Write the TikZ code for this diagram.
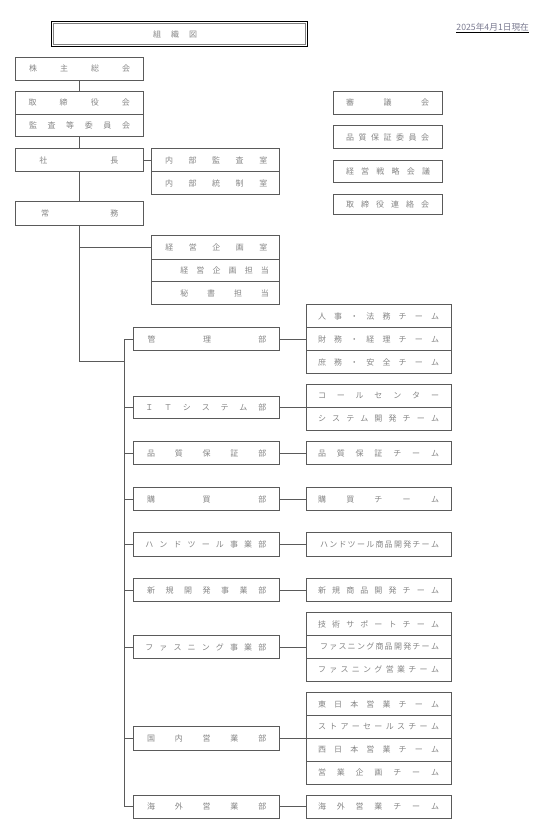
\documentclass[tikz,border=0pt]{standalone}
\usepackage{fontspec}
\setmainfont{Noto Sans CJK JP}
\definecolor{ln}{HTML}{5A5A5A}
\definecolor{tx}{HTML}{858585}
\definecolor{dtx}{HTML}{7A7A90}
\tikzset{
 obox/.style={draw=ln, line width=0.8pt, rectangle, inner sep=0pt, outer sep=0pt},
 lbl/.style={inner sep=0pt, outer sep=0pt, text=tx, font=\fontsize{8}{8}\selectfont},
 conn/.style={draw=ln, line width=0.8pt},
}
\newcommand\obox[5]{\node[obox, minimum width={(#4)-(#2)}, minimum height={(#5)-(#3)}] (#1) at ({((#2)+(#4))/2},{((#3)+(#5))/2}) {};}
\newcommand\otext[5]{\pgfmathsetlengthmacro\mywd{(#3)-(#2)+8}\node[lbl] (#1) at ({((#2)+(#3))/2},#4) {\makebox[\mywd][s]{#5}};}
\begin{document}
\begin{tikzpicture}[x=1pt,y=-1pt]
\useasboundingbox (0,0) rectangle (555,830);
% title
\node[draw=black, line width=1pt, minimum width=256.3, minimum height=24.3, inner sep=0pt, outer sep=0pt] (title) at (179.15,33.85) {};
\node[draw=gray, line width=0.8pt, minimum width=252, minimum height=20.5, inner sep=0pt, outer sep=0pt] (titlein) at (title.center) {};
\otext{titletxt}{157}{193}{34}{組 織 図}
\node[lbl, text=dtx, font=\fontsize{8.7}{8.7}\selectfont] (date) at (492.7,27.3) {2025年4月1日現在};
\draw[black, line width=0.8pt] ([yshift=-0.6pt]date.south west) -- ([yshift=-0.6pt]date.south east);
% left column
\obox{kab}{15.7}{57.3}{143.3}{80}
\obox{tori}{15.7}{91}{143.3}{114}
\obox{kansa}{15.7}{114}{143.3}{136.7}
\obox{shacho}{15.7}{148.3}{143.3}{171.7}
\obox{jomu}{15.7}{201.7}{143.3}{225}
\otext{kabT}{33}{126}{68.65}{株 主 総 会}
\otext{toriT}{32.5}{126}{102.5}{取 締 役 会}
\otext{kansaT}{33}{126}{125.35}{監 査 等 委 員 会}
\otext{shachoT}{43.3}{114.3}{160}{社 長}
\otext{jomuT}{45}{114.3}{213.35}{常 務}
% middle column
\obox{naibu1}{151.7}{148.3}{279.3}{171.7}
\obox{naibu2}{151.7}{171.7}{279.3}{194.3}
\obox{keiei1}{151.7}{235.7}{279.3}{259}
\obox{keiei2}{151.7}{259}{279.3}{281.7}
\obox{hisho}{151.7}{281.7}{279.3}{304.3}
\otext{naibu1T}{169}{263.3}{160}{内 部 監 査 室}
\otext{naibu2T}{169}{263.3}{183}{内 部 統 制 室}
\otext{keiei1T}{169.3}{263.3}{247.35}{経 営 企 画 室}
\otext{keiei2T}{184.3}{265}{270.35}{経 営 企 画 担 当}
\otext{hishoT}{184.3}{265}{293}{秘 書 担 当}
% committees
\obox{shingi}{333.3}{91.7}{442.7}{114}
\obox{hqcomm}{333.3}{125.7}{442.7}{148.3}
\obox{senryaku}{333.3}{160}{442.7}{182.7}
\obox{renraku}{333.3}{194.3}{442.7}{214}
\otext{shingiT}{350}{425}{102.85}{審 議 会}
\otext{hqcommT}{350}{425}{137}{品 質 保 証 委 員 会}
\otext{senryakuT}{350}{426}{171.35}{経 営 戦 略 会 議}
\otext{renrakuT}{350}{425}{204.15}{取 締 役 連 絡 会}
% departments
\obox{kanri}{133.3}{327.3}{279.3}{350.7}
\obox{it}{133.3}{396}{279.3}{418.7}
\obox{hinshitsu}{133.3}{441.7}{279.3}{464.3}
\obox{kobai}{133.3}{487.3}{279.3}{510.7}
\obox{hand}{133.3}{532.7}{279.3}{556}
\obox{shinki}{133.3}{578.3}{279.3}{601.7}
\obox{fas}{133.3}{635.7}{279.3}{658.3}
\obox{kokunai}{133.3}{726.7}{279.3}{750}
\obox{kaigai}{133.3}{795}{279.3}{818.3}
\otext{kanriT}{151.7}{262.3}{339}{管 理 部}
\otext{itT}{149.3}{262.3}{407.35}{Ｉ Ｔ シ ス テ ム 部}
\otext{hinshitsuT}{151}{262.3}{453}{品 質 保 証 部}
\otext{kobaiT}{151}{262.3}{499}{購 買 部}
\otext{handT}{149.3}{262.3}{544.35}{ハ ン ド ツ ー ル 事 業 部}
\otext{shinkiT}{151}{262.3}{590}{新 規 開 発 事 業 部}
\otext{fasT}{149.3}{262.3}{647}{フ ァ ス ニ ン グ 事 業 部}
\otext{kokunaiT}{151}{262.3}{738.35}{国 内 営 業 部}
\otext{kaigaiT}{151}{262.3}{806.65}{海 外 営 業 部}
% teams
\obox{jinji}{306}{304.7}{451.7}{327.3}
\obox{zaimu}{306}{327.3}{451.7}{350.7}
\obox{shomu}{306}{350.7}{451.7}{373.3}
\obox{call}{306}{384.3}{451.7}{407.3}
\obox{sysdev}{306}{407.3}{451.7}{430}
\obox{hqteam}{306}{441.7}{451.7}{464.3}
\obox{kobaiteam}{306}{487.3}{451.7}{510.7}
\obox{handteam}{306}{532.7}{451.7}{556}
\obox{shinkiteam}{306}{578.3}{451.7}{601.7}
\obox{gijutsu}{306}{612.7}{451.7}{635.3}
\obox{fasdev}{306}{635.3}{451.7}{658.3}
\obox{fassales}{306}{658.3}{451.7}{681}
\obox{east}{306}{692.7}{451.7}{715.7}
\obox{store}{306}{715.7}{451.7}{738.3}
\obox{west}{306}{738.3}{451.7}{761}
\obox{eplan}{306}{761}{451.7}{784}
\obox{kaigaiteam}{306}{795}{451.7}{818.3}
\otext{jinjiT}{322}{435}{316}{人 事 ・ 法 務 チ ー ム}
\otext{zaimuT}{322}{435}{339}{財 務 ・ 経 理 チ ー ム}
\otext{shomuT}{322}{435}{362}{庶 務 ・ 安 全 チ ー ム}
\otext{callT}{322}{435}{395.8}{コ ー ル セ ン タ ー}
\otext{sysdevT}{322}{435}{418.65}{シ ス テ ム 開 発 チ ー ム}
\otext{hqteamT}{322}{435}{453}{品 質 保 証 チ ー ム}
\otext{kobaiteamT}{322}{435}{499}{購 買 チ ー ム}
\otext{handteamT}{324}{435}{544.35}{ハ ン ド ツ ー ル 商 品 開 発 チ ー ム}
\otext{shinkiteamT}{322}{435}{590}{新 規 商 品 開 発 チ ー ム}
\otext{gijutsuT}{322}{435}{624}{技 術 サ ポ ー ト チ ー ム}
\otext{fasdevT}{324}{435}{646.8}{フ ァ ス ニ ン グ 商 品 開 発 チ ー ム}
\otext{fassalesT}{322}{435}{669.65}{フ ァ ス ニ ン グ 営 業 チ ー ム}
\otext{eastT}{322}{435}{704.2}{東 日 本 営 業 チ ー ム}
\otext{storeT}{322}{435}{727}{ス ト ア ー セ ー ル ス チ ー ム}
\otext{westT}{322}{435}{749.65}{西 日 本 営 業 チ ー ム}
\otext{eplanT}{322}{435}{772.5}{営 業 企 画 チ ー ム}
\otext{kaigaiteamT}{322}{435}{806.65}{海 外 営 業 チ ー ム}
% connectors
\draw[conn] (kab) -- (tori);
\draw[conn] (kansa) -- (shacho);
\draw[conn] (shacho) -- (naibu1);
\draw[conn] (shacho) -- (jomu);
\coordinate (jbend) at (124.7,361.7);
\coordinate (trunk) at (124.7,0);
\draw[conn] (jomu.south) |- (jbend);
\draw[conn] (jomu.south |- keiei1.west) -- (keiei1.west);
\draw[conn] (kanri.west) -| (trunk |- kaigai.west) -- (kaigai.west);
\foreach \d in {it,hinshitsu,kobai,hand,shinki,fas,kokunai}
  \draw[conn] (\d.west) -- (trunk |- \d.west);
\draw[conn] (kanri) -- (zaimu);
\draw[conn] (it.east) -- (it.east -| call.west);
\draw[conn] (hinshitsu) -- (hqteam);
\draw[conn] (kobai) -- (kobaiteam);
\draw[conn] (hand) -- (handteam);
\draw[conn] (shinki) -- (shinkiteam);
\draw[conn] (fas.east) -- (fas.east -| fasdev.west);
\draw[conn] (kokunai.east) -- (kokunai.east -| store.west);
\draw[conn] (kaigai) -- (kaigaiteam);
\end{tikzpicture}
\end{document}
